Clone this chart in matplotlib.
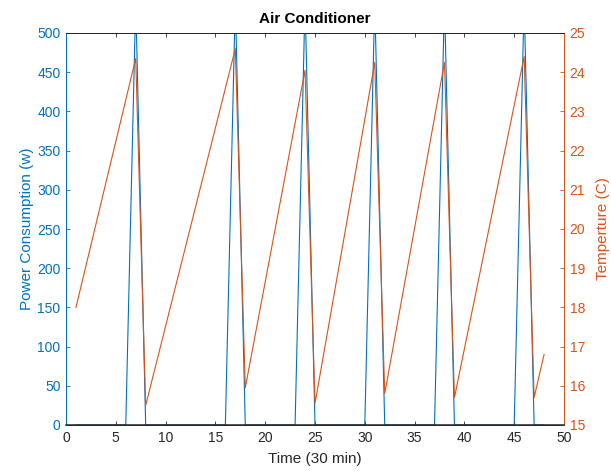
import matplotlib
matplotlib.use("Agg")
import matplotlib.pyplot as plt

plt.rcParams['font.family'] = ['Liberation Sans', 'DejaVu Sans']

# Power consumption (W) at each half-hour step 1..48
time_power = list(range(1, 49))
power = [0, 0, 0, 0, 0, 0, 540, 0, 0, 0,
         0, 0, 0, 0, 0, 0, 540, 0, 0, 0,
         0, 0, 0, 540, 0, 0, 0, 0, 0, 0,
         540, 0, 0, 0, 0, 0, 0, 540, 0, 0,
         0, 0, 0, 0, 0, 540, 0, 0]

# Temperature (C) turning points
time_temp = [1, 7, 8, 17, 18, 24, 25, 31, 32, 38, 39, 46, 47, 48]
temp = [18.0, 24.35, 15.5, 24.6, 15.95, 24.05, 15.55, 24.25, 15.8, 24.25, 15.7, 24.4, 15.7, 16.8]

x_ticks = [0, 5, 10, 15, 20, 25, 30, 35, 40, 45, 50]
power_ticks = [0, 50, 100, 150, 200, 250, 300, 350, 400, 450, 500]
temp_ticks = [15, 16, 17, 18, 19, 20, 21, 22, 23, 24, 25]

blue = (0.0, 0.447, 0.741)
orange = (0.850, 0.325, 0.098)
gray = (0.15, 0.15, 0.15)

fig = plt.figure(figsize=(6.11, 4.74), dpi=100)
ax = fig.add_axes([66/611, 1-425/474, (564-66)/611, (425-33)/474])
ax2 = ax.twinx()

ax.plot(time_power, power, color=blue, lw=0.8)
ax2.plot(time_temp, temp, color=orange, lw=0.8)

ax.set_xlim(0, 50)
ax.set_ylim(0, 500)
ax2.set_ylim(15, 25)
ax.set_xticks(x_ticks)
ax.set_yticks(power_ticks)
ax2.set_yticks(temp_ticks)

fs = 10
ax.tick_params(axis='x', direction='in', top=True, length=3, width=0.6,
               colors=gray, labelsize=fs, pad=4)
ax.tick_params(axis='y', direction='in', length=3, width=0.6,
               colors=blue, labelsize=fs, pad=4)
ax2.tick_params(axis='y', direction='in', length=3, width=0.6,
                colors=orange, labelsize=fs, pad=4)

for a in (ax, ax2):
    a.spines['top'].set_color(gray)
    a.spines['bottom'].set_color(gray)
    a.spines['left'].set_color(blue)
    a.spines['right'].set_color(orange)
    for s in a.spines.values():
        s.set_linewidth(0.7)
ax2.spines['bottom'].set_linewidth(1.1)

ax.set_xlabel('Time (30 min)', fontsize=fs + 1, color=gray, labelpad=5)
ax.set_ylabel('Power Consumption (w)', fontsize=fs + 1, color=blue, labelpad=2)
ax2.set_ylabel('Temperture (C)', fontsize=fs + 1, color=orange, labelpad=8)
ax.set_title('Air Conditioner', fontsize=fs + 1, fontweight='bold', pad=7)

fig.savefig('out.png', dpi=100)
